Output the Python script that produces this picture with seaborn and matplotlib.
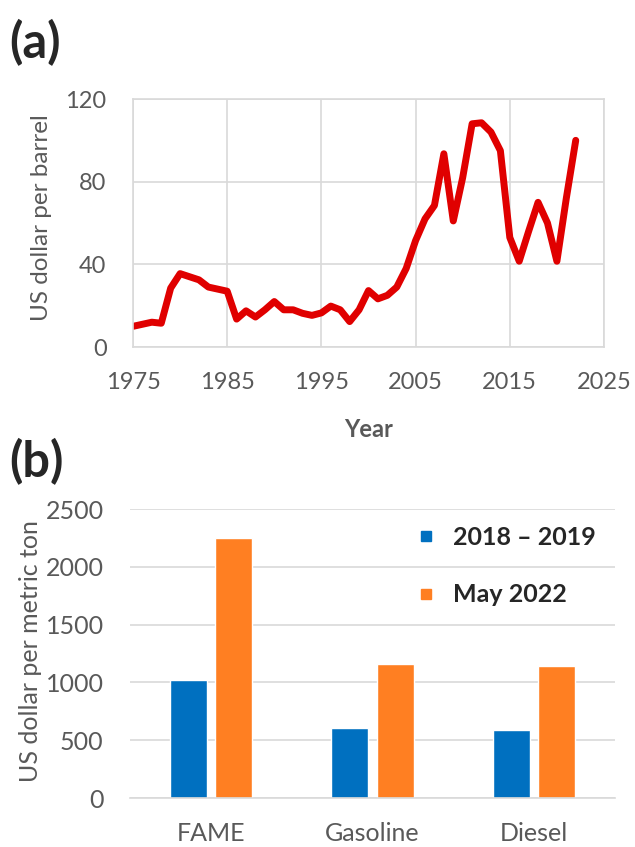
import numpy as np
import pandas as pd
import matplotlib
matplotlib.use('Agg')
import matplotlib.pyplot as plt
from matplotlib.lines import Line2D
import seaborn as sns

# (a) crude oil price (US dollar per barrel)
years = list(range(1975, 2023))
price = [10, 11, 12, 11.5, 28.5, 35.5, 34, 32.5, 29, 28,
         27, 13.5, 17.5, 14.5, 18, 22, 18, 18, 16.3, 15.3,
         16.5, 19.8, 18, 12.3, 18, 27.3, 23.3, 25, 29, 38,
         51.5, 62, 68.5, 93.5, 61, 82, 108, 108.5, 104, 95,
         53, 41.5, 56, 70, 60, 41.5, 72, 100]

# (b) fuel prices (US dollar per metric ton)
fuels = ['FAME', 'Gasoline', 'Diesel']
periods = ['2018 – 2019', 'May 2022']
price_1819 = [1022, 605, 590]
price_2022 = [2245, 1157, 1143]

blue = '#0070C0'
orange = '#FF7F22'
red = '#E00000'
grey_txt = '#595959'
grid_col = '#D9D9D9'

sns.set_theme(style='white')
plt.rcParams['font.family'] = ['Lato', 'DejaVu Sans']

fig = plt.figure(figsize=(6.35, 8.47), dpi=100)

# ---- (a) line chart
ax1 = fig.add_axes([133/635, 1 - 347/847, 471/635, 248/847])
oil = pd.DataFrame({'year': years, 'price': price})
sns.lineplot(data=oil, x='year', y='price', color=red, linewidth=5, ax=ax1)
for ln in ax1.lines:
    ln.set_solid_joinstyle('round')
    ln.set_solid_capstyle('round')
ax1.set_xlim(1975, 2025)
ax1.set_ylim(0, 120)
ax1.set_xticks(range(1975, 2026, 10))
ax1.set_yticks([0, 40, 80, 120])
ax1.grid(True, color=grid_col, linewidth=1.2)
ax1.set_axisbelow(True)
for s in ax1.spines.values():
    s.set_color(grid_col)
    s.set_linewidth(1.2)
ax1.tick_params(axis='both', length=0, labelsize=17, colors=grey_txt)
ax1.tick_params(axis='y', pad=19)
ax1.tick_params(axis='x', pad=18)
ax1.set_xlabel('Year', fontsize=17, fontweight='bold', color=grey_txt)
ax1.set_ylabel('US dollar per barrel', fontsize=17.5, color=grey_txt)
ax1.xaxis.set_label_coords(0.5, -0.285)
ax1.yaxis.set_label_coords(-0.172, 0.52)

# ---- (b) bar chart
ax2 = fig.add_axes([130/635, 1 - 798/847, 485/635, 289/847])
fuel_df = pd.DataFrame({
    'fuel': fuels * 2,
    'period': [periods[0]] * 3 + [periods[1]] * 3,
    'value': price_1819 + price_2022,
})
sns.barplot(data=fuel_df, x='fuel', y='value', hue='period',
            palette=[blue, orange], width=0.56, gap=0.18,
            saturation=1, ax=ax2, legend=False)
ax2.set_xlim(-0.5, 2.5)
ax2.set_ylim(0, 2500)
ax2.set_yticks(range(0, 2501, 500))
ax2.yaxis.grid(True, color=grid_col, linewidth=1.2)
ax2.set_axisbelow(True)
for side in ['left', 'right', 'top']:
    ax2.spines[side].set_visible(False)
ax2.spines['bottom'].set_color(grid_col)
ax2.spines['bottom'].set_linewidth(1.2)
ax2.tick_params(axis='both', length=0, labelsize=18, colors=grey_txt)
ax2.tick_params(axis='y', pad=19)
ax2.tick_params(axis='x', pad=17)
ax2.set_xlabel('')
ax2.set_ylabel('US dollar per metric ton', fontsize=18, color=grey_txt)
ax2.yaxis.set_label_coords(-0.181, 0.51)

handles = [Line2D([], [], marker='s', linestyle='none', markersize=7,
                  color=c) for c in [blue, orange]]
leg = ax2.legend(handles, periods, loc='upper left',
                 bbox_to_anchor=(420/635, 1 - 526/847),
                 bbox_transform=fig.transFigure, frameon=False,
                 prop={'size': 18, 'weight': 'bold'},
                 labelspacing=1.37, handlelength=0.5,
                 handletextpad=0.8, borderpad=0, borderaxespad=0)

# panel labels
fig.text(9/635, 1 - 43/847, '(a)', fontsize=35, fontweight='bold',
         va='center', ha='left')
fig.text(9/635, 1 - 462/847, '(b)', fontsize=35, fontweight='bold',
         va='center', ha='left')

fig.savefig('out.png', dpi=100)
